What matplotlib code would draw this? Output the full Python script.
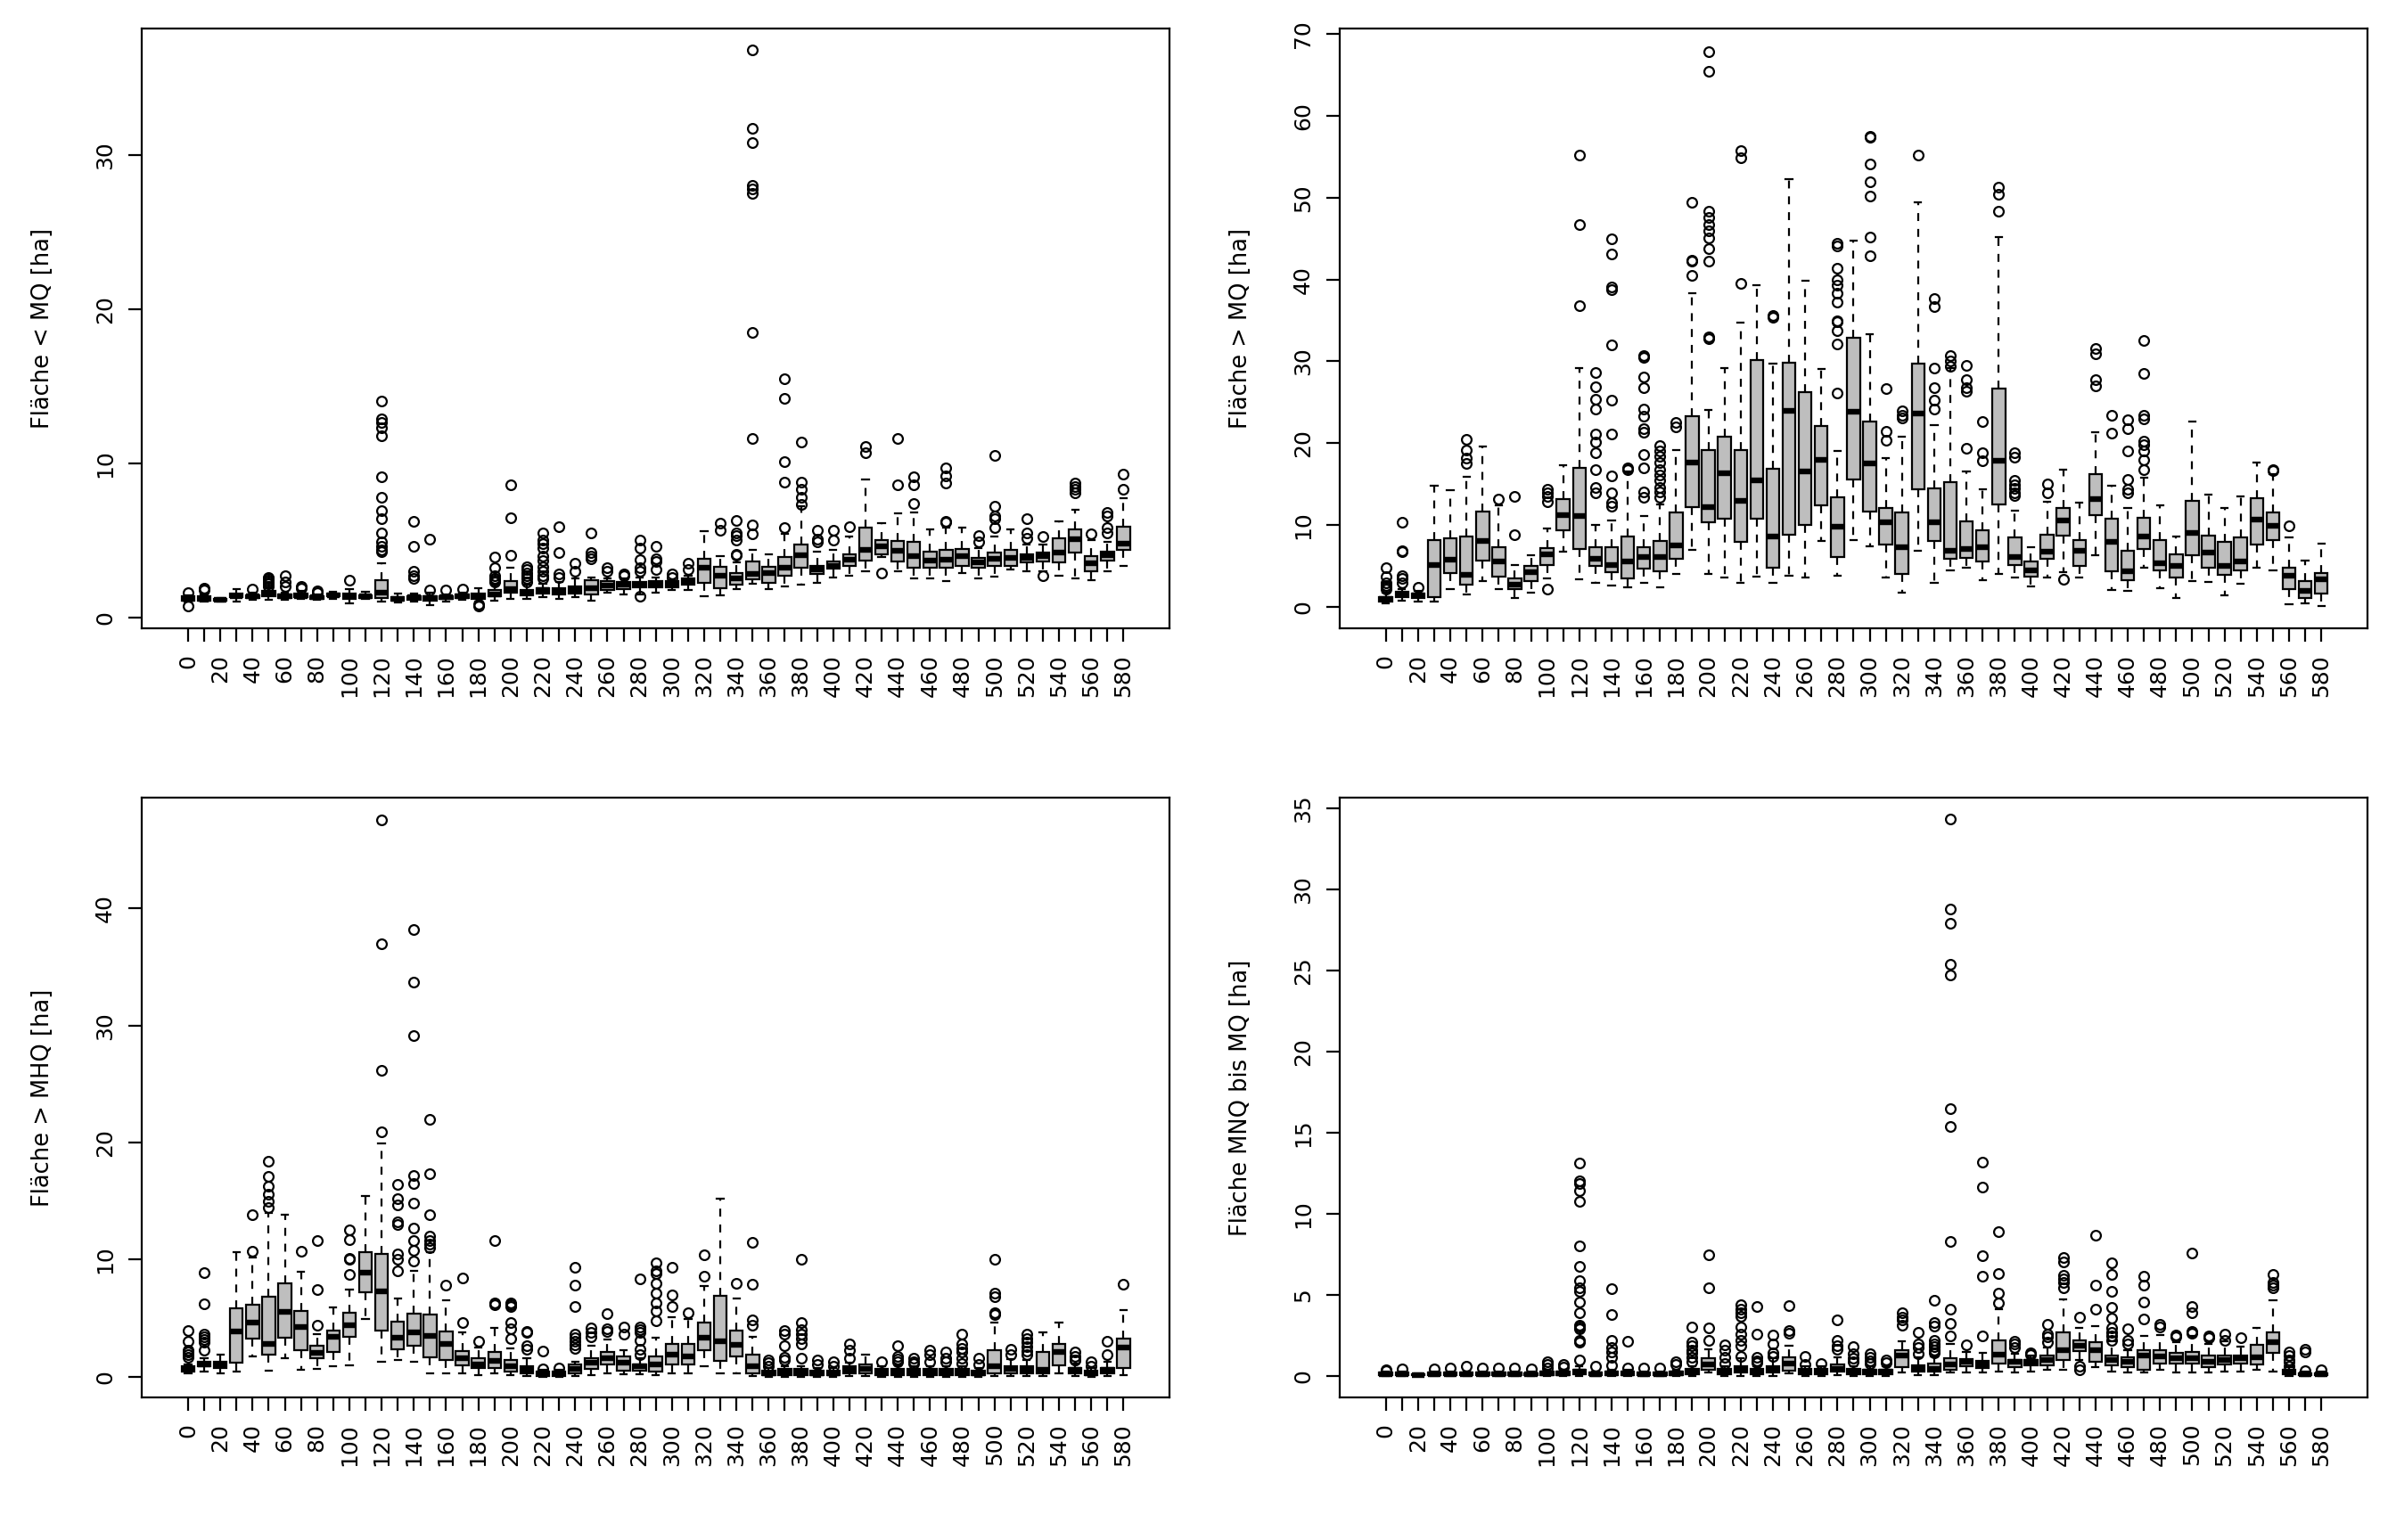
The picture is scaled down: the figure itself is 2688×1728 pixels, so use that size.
import matplotlib
matplotlib.use("Agg")
import matplotlib.pyplot as plt

plt.rcParams['font.family'] = ['DejaVu Sans']

# station labels (0 .. 580 in steps of 10)
stations = list(range(0, 590, 10))

# ---------------------------------------------------------------- Fläche < MQ
lt_med = [1.2, 1.2, 1.15, 1.4, 1.35, 1.55, 1.35, 1.4, 1.3, 1.45, 1.35, 1.35, 1.6, 1.2, 1.3,
          1.25, 1.3, 1.35, 1.35, 1.5, 1.85, 1.6, 1.75, 1.7, 1.8, 1.9, 2.05, 2.1, 2.15, 2.15,
          2.1, 2.3, 3.2, 2.7, 2.5, 2.8, 2.85, 3.2, 4.05, 3.1, 3.35, 3.75, 4.4, 4.6, 4.3,
          4.0, 3.7, 3.75, 3.95, 3.55, 3.8, 3.85, 3.85, 3.95, 4.2, 5.05, 3.5, 4.05, 4.8]
lt_q1 = [1.1, 1.1, 1.1, 1.3, 1.25, 1.4, 1.25, 1.3, 1.2, 1.35, 1.2, 1.25, 1.25, 1.1, 1.15,
         1.1, 1.2, 1.25, 1.2, 1.35, 1.6, 1.45, 1.55, 1.5, 1.55, 1.5, 1.75, 1.85, 1.95, 1.95,
         1.95, 2.1, 2.25, 1.9, 2.1, 2.45, 2.25, 2.7, 3.25, 2.8, 3.15, 3.35, 3.7, 4.1, 3.6,
         3.2, 3.25, 3.25, 3.35, 3.25, 3.35, 3.35, 3.55, 3.6, 3.55, 4.2, 3.0, 3.7, 4.4]
lt_q3 = [1.35, 1.4, 1.2, 1.55, 1.45, 1.7, 1.5, 1.55, 1.4, 1.55, 1.55, 1.45, 2.4, 1.3, 1.4,
         1.4, 1.4, 1.5, 1.55, 1.75, 2.35, 1.8, 1.9, 1.9, 2.0, 2.4, 2.35, 2.3, 2.3, 2.35,
         2.35, 2.5, 3.8, 3.3, 2.85, 3.6, 3.3, 3.9, 4.75, 3.35, 3.6, 4.1, 5.8, 5.0, 4.95,
         4.9, 4.25, 4.4, 4.45, 3.85, 4.2, 4.4, 4.1, 4.2, 5.15, 5.7, 3.95, 4.25, 5.9]
lt_lo = [1.0, 1.0, 1.05, 1.05, 1.15, 1.15, 1.15, 1.2, 1.15, 1.2, 0.9, 1.2, 1.05, 0.95, 1.0,
         0.8, 1.05, 1.15, 1.0, 1.1, 1.2, 1.2, 1.3, 1.2, 1.3, 1.1, 1.6, 1.5, 1.5, 1.6,
         1.8, 1.8, 1.4, 1.45, 1.85, 2.2, 1.85, 2.0, 2.15, 2.25, 2.6, 2.7, 3.0, 3.9, 3.0,
         2.5, 2.5, 2.35, 2.85, 2.5, 2.65, 3.1, 3.0, 3.0, 2.7, 2.5, 2.4, 3.0, 3.35]
lt_hi = [1.45, 1.5, 1.25, 1.85, 1.6, 1.9, 1.6, 1.7, 1.5, 1.65, 1.85, 1.65, 3.5, 1.55, 1.55,
         1.6, 1.5, 1.6, 1.9, 2.1, 3.2, 2.1, 2.2, 2.3, 2.5, 2.6, 2.5, 2.5, 2.6, 2.6,
         2.4, 2.7, 5.6, 4.0, 3.55, 4.4, 4.1, 5.4, 7.2, 4.25, 4.4, 5.25, 8.95, 6.1, 6.75,
         6.8, 5.7, 5.8, 5.8, 4.5, 5.25, 5.7, 4.75, 4.75, 6.2, 7.0, 5.0, 4.9, 7.75]
lt_out = [[1.6, 0.75], [1.8, 1.9], [], [], [1.85], [2.0, 2.2, 2.3, 2.4, 2.5, 2.6],
          [2.0, 2.3, 2.7], [1.9, 2.0], [1.6, 1.7], [], [2.4], [],
          [14.05, 12.9, 12.65, 12.3, 11.8, 9.1, 7.8, 6.9, 6.4, 5.5, 4.9, 4.6, 4.4, 4.25],
          [], [6.2, 4.6, 3.0, 2.7, 2.5], [5.1, 1.8], [1.75], [1.85], [0.85, 0.75],
          [3.9, 3.2, 2.7, 2.5, 2.4, 2.3], [8.6, 6.45, 4.05], [3.3, 3.1, 2.9, 2.7, 2.5, 2.3],
          [5.5, 5.0, 4.8, 4.5, 4.0, 3.7, 3.3, 3.0, 2.7, 2.5], [5.9, 4.2, 2.8, 2.6],
          [3.5, 3.0], [5.5, 4.2, 4.0, 3.8], [3.2, 3.0], [2.8, 2.7],
          [5.0, 4.5, 3.75, 3.2, 3.0, 1.4], [4.6, 3.8, 3.6, 3.1], [2.8, 2.6], [3.5, 3.1],
          [], [6.1, 5.65], [6.3, 5.5, 5.3, 5.0, 4.1, 4.05],
          [36.8, 31.7, 30.8, 28.0, 27.8, 27.5, 18.5, 11.6, 6.0, 5.4], [],
          [15.5, 14.2, 10.1, 8.8, 5.8], [11.4, 8.8, 8.3, 7.8, 7.3], [5.65, 5.05, 4.9],
          [5.65, 5.0], [5.9], [11.1, 10.7], [2.85], [11.6, 8.6], [9.1, 8.6, 7.4], [],
          [9.7, 9.2, 8.7, 6.2, 6.15], [], [5.3, 4.9], [10.5, 7.2, 6.6, 6.4, 5.8], [],
          [6.4, 5.5, 5.15], [5.25, 2.7], [], [8.7, 8.5, 8.3, 8.05], [5.4],
          [6.8, 6.6, 5.8, 5.5], [9.3, 8.3]]

# ---------------------------------------------------------------- Fläche > MQ
gt_med = [0.95, 1.5, 1.35, 5.15, 5.75, 3.9, 8.05, 5.5, 2.7, 4.2, 6.45, 11.2, 11.1, 5.85, 5.15,
          5.5, 6.1, 6.1, 7.5, 17.6, 12.2, 16.3, 12.9, 15.5, 8.6, 23.9, 16.5, 17.9, 9.8, 23.8,
          17.5, 10.3, 7.3, 23.6, 10.3, 6.8, 7.1, 7.3, 17.8, 6.1, 4.4, 6.7, 10.5, 6.8, 13.2,
          7.9, 4.3, 8.6, 5.35, 5.0, 9.0, 6.6, 5.0, 5.5, 10.7, 9.85, 3.8, 1.9, 3.35]
gt_q1 = [0.67, 1.2, 1.05, 1.2, 4.15, 2.7, 5.65, 3.7, 2.15, 3.1, 5.15, 9.3, 7.1, 5.0, 4.2,
         3.45, 4.7, 4.3, 5.85, 12.2, 10.3, 10.8, 7.9, 10.8, 4.8, 8.85, 10.05, 12.35, 6.1, 15.6,
         11.6, 7.65, 4.05, 14.35, 8.0, 5.85, 6.0, 5.5, 12.5, 5.1, 3.7, 5.85, 8.7, 5.0, 11.15,
         4.3, 3.25, 7.1, 4.4, 3.6, 6.3, 4.8, 3.9, 4.4, 7.65, 8.15, 2.15, 1.05, 1.65]
gt_q3 = [1.2, 1.8, 1.6, 8.2, 8.4, 8.6, 11.6, 7.3, 3.45, 5.0, 7.2, 13.15, 17.0, 7.3, 7.3,
         8.6, 7.3, 8.0, 11.5, 23.3, 19.2, 20.8, 19.1, 30.1, 16.9, 29.8, 26.2, 22.1, 13.4, 32.9,
         22.6, 12.1, 11.5, 29.7, 14.45, 15.2, 10.4, 9.4, 26.7, 8.5, 5.5, 8.85, 12.1, 8.2, 16.2,
         10.8, 6.85, 10.9, 8.15, 6.45, 12.9, 8.7, 7.9, 8.5, 13.3, 11.5, 4.8, 3.1, 4.15]
gt_lo = [0.4, 0.7, 0.6, 0.6, 2.15, 1.45, 3.1, 2.15, 1.05, 1.7, 3.45, 6.7, 3.35, 2.9, 2.55,
         2.4, 2.9, 2.4, 4.05, 6.95, 4.05, 3.6, 2.9, 3.7, 2.9, 3.8, 3.6, 8.0, 3.8, 8.2,
         7.4, 3.6, 1.75, 6.85, 2.9, 4.4, 4.8, 3.2, 4.05, 3.6, 2.5, 3.6, 4.2, 3.6, 6.3,
         2.0, 1.9, 4.8, 2.3, 1.05, 3.1, 3.0, 1.35, 2.8, 4.8, 4.4, 0.25, 0.4, 0.1]
gt_hi = [1.7, 2.15, 1.9, 14.8, 14.2, 15.9, 19.6, 12.4, 5.1, 6.35, 9.6, 17.3, 29.2, 9.95, 10.5,
         16.5, 11.1, 12.5, 19.1, 38.3, 24.0, 29.2, 34.7, 39.3, 29.7, 52.3, 39.8, 29.1, 19.0, 44.7,
         33.3, 18.2, 20.8, 49.4, 22.2, 29.2, 16.5, 14.35, 45.2, 11.7, 7.3, 12.8, 16.8, 12.7, 21.3,
         14.8, 12.05, 15.8, 12.4, 8.6, 22.6, 13.7, 12.1, 13.5, 17.6, 16.2, 8.5, 5.65, 7.75]
gt_out = [[4.8, 3.7, 2.9, 2.6, 2.4, 2.15], [10.3, 6.8, 6.7, 3.8, 3.45, 2.9], [2.4], [], [],
          [20.5, 19.1, 18.2, 17.5], [], [13.2], [13.5, 8.8], [], [14.35, 13.9, 13.5, 12.8, 2.2],
          [], [55.2, 46.7, 36.8],
          [28.6, 26.9, 25.4, 24.2, 21.1, 20.1, 18.8, 16.8, 14.6, 13.9],
          [45.0, 43.1, 39.1, 38.8, 32.0, 25.3, 21.1, 16.0, 13.9, 12.7, 12.3], [17.0, 16.8],
          [30.7, 30.5, 28.1, 26.8, 24.2, 23.3, 21.8, 21.3, 18.6, 17.0, 14.0, 13.4],
          [19.7, 19.0, 18.4, 17.6, 16.8, 16.1, 15.4, 14.6, 14.0, 13.4], [22.5, 22.0],
          [49.4, 42.4, 42.3, 40.5],
          [67.8, 65.5, 48.3, 47.6, 46.7, 45.9, 45.1, 43.8, 42.2, 33.0, 32.8], [],
          [55.7, 54.9, 39.5], [], [35.6, 35.4], [], [], [],
          [44.4, 44.1, 41.4, 40.0, 39.3, 38.3, 37.2, 35.0, 34.8, 33.7, 32.1, 26.1], [],
          [57.5, 57.4, 54.1, 51.9, 50.2, 45.2, 42.9], [26.7, 21.4, 20.3], [23.9, 23.4, 23.1],
          [55.2], [37.7, 36.7, 29.2, 26.8, 25.2, 24.2], [30.7, 30.0, 29.4],
          [29.5, 27.8, 26.8, 26.3, 19.4], [22.6, 18.8, 17.8], [51.3, 50.4, 48.3],
          [18.8, 18.3, 15.4, 14.9, 14.45, 13.9, 13.6], [], [15.0, 13.9], [3.4], [],
          [31.6, 30.9, 27.8, 27.0], [23.4, 21.2], [22.9, 21.8, 19.0, 15.55, 14.35, 13.9],
          [32.5, 28.5, 23.4, 23.0, 20.2, 19.8, 19.0, 17.9, 16.8], [], [], [], [], [], [], [],
          [16.7, 16.6], [9.85], [], []]

# ---------------------------------------------------------------- Fläche > MHQ
mhq_med = [0.65, 1.05, 1.0, 3.85, 4.6, 2.75, 5.55, 4.2, 2.0, 3.4, 4.35, 8.9, 7.3, 3.3, 3.8,
           3.5, 2.75, 1.6, 1.05, 1.35, 0.9, 0.55, 0.25, 0.25, 0.65, 1.2, 1.6, 1.2, 0.85, 1.05,
           1.85, 1.75, 3.3, 3.0, 2.7, 0.85, 0.3, 0.4, 0.4, 0.3, 0.3, 0.55, 0.65, 0.4, 0.4,
           0.4, 0.4, 0.4, 0.4, 0.3, 0.85, 0.65, 0.55, 0.55, 2.1, 0.55, 0.3, 0.55, 2.5]
mhq_q1 = [0.4, 0.85, 0.75, 1.15, 3.25, 1.85, 3.3, 2.25, 1.6, 2.1, 3.4, 7.2, 3.9, 2.35, 2.6,
          1.65, 1.4, 0.95, 0.75, 0.75, 0.4, 0.25, 0.05, 0.05, 0.25, 0.65, 1.05, 0.5, 0.5, 0.4,
          1.05, 1.05, 2.25, 1.35, 1.7, 0.3, 0.1, 0.15, 0.15, 0.1, 0.1, 0.3, 0.25, 0.15, 0.15,
          0.15, 0.15, 0.15, 0.15, 0.1, 0.3, 0.3, 0.3, 0.25, 0.95, 0.25, 0.1, 0.25, 0.75]
mhq_q3 = [0.9, 1.3, 1.25, 5.85, 6.1, 6.85, 7.95, 5.6, 2.65, 3.9, 5.45, 10.6, 10.5, 4.7, 5.35,
          5.3, 3.85, 2.2, 1.6, 2.1, 1.4, 0.9, 0.4, 0.4, 1.05, 1.6, 2.1, 1.7, 1.05, 1.75,
          2.75, 2.75, 4.6, 6.9, 3.95, 1.85, 0.5, 0.65, 0.65, 0.5, 0.5, 0.85, 1.0, 0.65, 0.65,
          0.65, 0.65, 0.65, 0.65, 0.5, 2.25, 0.9, 0.85, 2.1, 2.75, 0.75, 0.5, 0.75, 3.25]
mhq_lo = [0.3, 0.45, 0.3, 0.4, 1.7, 0.5, 1.6, 0.55, 0.65, 0.9, 0.95, 4.9, 1.3, 1.4, 1.25,
          0.3, 0.3, 0.3, 0.15, 0.3, 0.15, 0.05, 0.0, 0.0, 0.05, 0.15, 0.3, 0.2, 0.2, 0.1,
          0.3, 0.3, 0.85, 0.3, 0.3, 0.05, 0.0, 0.0, 0.0, 0.0, 0.0, 0.05, 0.05, 0.0, 0.0,
          0.0, 0.0, 0.0, 0.0, 0.0, 0.05, 0.05, 0.05, 0.05, 0.3, 0.05, 0.0, 0.05, 0.15]
mhq_hi = [1.0, 1.55, 1.9, 10.6, 10.2, 14.0, 13.8, 8.95, 3.6, 5.9, 7.45, 15.4, 19.9, 6.7, 9.0,
          10.6, 6.5, 3.75, 2.5, 4.15, 2.4, 1.6, 0.55, 0.55, 1.3, 2.6, 3.15, 2.25, 1.6, 3.3,
          5.1, 4.95, 7.7, 15.2, 6.7, 3.4, 0.75, 0.9, 0.9, 0.7, 0.7, 1.2, 1.85, 0.9, 0.95,
          0.9, 0.9, 0.9, 0.9, 0.7, 4.6, 1.5, 1.4, 3.75, 4.65, 1.1, 0.7, 1.25, 5.65]
mhq_out = [[3.9, 3.0, 2.25, 2.1, 1.85, 1.65], [8.9, 6.2, 3.65, 3.4, 3.2, 2.9, 2.25], [], [],
           [10.7, 13.8], [18.4, 17.1, 16.3, 15.6, 15.0, 14.4], [], [10.7], [11.6, 7.4, 4.4],
           [], [12.5, 11.7, 10.1, 10.0, 8.7], [], [47.6, 37.0, 26.2, 20.9],
           [16.4, 15.2, 14.7, 13.2, 13.0, 10.5, 10.0, 9.0],
           [38.2, 33.7, 29.1, 17.2, 16.5, 14.8, 12.7, 11.6, 10.8, 9.9],
           [22.0, 17.35, 13.8, 12.0, 11.6, 11.3, 11.0], [7.8], [8.45, 4.6], [3.0],
           [11.6, 6.3, 6.1], [6.3, 6.1, 5.95, 4.6, 4.1, 3.25], [3.85, 3.75, 2.6, 2.3],
           [2.15, 0.65], [0.75], [9.35, 7.85, 6.0, 3.6, 3.3, 3.0, 2.7, 2.4],
           [4.15, 3.75, 3.4], [5.35, 4.1, 3.85], [4.2, 3.65],
           [8.35, 4.25, 4.0, 3.8, 3.1, 2.3, 1.9], [9.7, 9.0, 8.8, 7.95, 7.1, 6.3, 5.6, 4.75],
           [9.3, 7.0, 5.95], [5.45], [10.4, 8.55], [], [7.95], [11.5, 7.9, 4.85, 4.35],
           [1.4, 1.2, 0.9], [3.9, 3.6, 2.65, 1.65, 1.4], [10.0, 4.6, 4.0, 3.65, 3.25, 2.75, 1.6],
           [1.4, 1.05], [1.3, 0.9], [2.75, 2.25, 1.6], [], [1.25], [2.65, 1.75, 1.5, 1.25],
           [1.6, 1.3, 1.1], [2.25, 1.9, 1.25], [2.1, 1.6, 1.25], [3.6, 2.75, 2.4, 2.1, 1.6, 1.1],
           [1.6, 1.05], [10.0, 7.1, 6.8, 5.45, 5.3], [2.3, 1.9], [3.65, 3.25, 2.9, 2.55, 2.2, 1.85],
           [], [], [2.1, 1.75, 1.45, 1.4], [1.25, 0.9], [3.0, 1.9], [7.9]]

# ---------------------------------------------------------------- Fläche MNQ bis MQ
mnq_med = [0.1, 0.12, 0.08, 0.1, 0.12, 0.12, 0.12, 0.12, 0.12, 0.1, 0.15, 0.15, 0.25, 0.12, 0.15,
           0.15, 0.12, 0.12, 0.15, 0.25, 0.7, 0.25, 0.45, 0.25, 0.4, 0.75, 0.25, 0.25, 0.45, 0.25,
           0.25, 0.25, 1.25, 0.45, 0.45, 0.7, 0.85, 0.7, 1.3, 0.85, 0.85, 1.0, 1.6, 1.85, 1.6,
           1.0, 0.9, 1.25, 1.2, 1.1, 1.1, 0.9, 1.0, 1.1, 1.15, 2.1, 0.25, 0.1, 0.1]
mnq_q1 = [0.05, 0.05, 0.05, 0.05, 0.05, 0.05, 0.05, 0.05, 0.05, 0.05, 0.05, 0.05, 0.1, 0.05, 0.05,
          0.05, 0.05, 0.05, 0.05, 0.1, 0.4, 0.1, 0.2, 0.1, 0.2, 0.35, 0.1, 0.1, 0.3, 0.1,
          0.1, 0.1, 0.55, 0.3, 0.3, 0.4, 0.6, 0.5, 0.75, 0.55, 0.65, 0.65, 1.0, 1.55, 0.85,
          0.65, 0.55, 0.4, 0.75, 0.75, 0.75, 0.55, 0.7, 0.75, 0.7, 1.4, 0.1, 0.05, 0.05]
mnq_q3 = [0.2, 0.2, 0.12, 0.2, 0.2, 0.2, 0.2, 0.2, 0.2, 0.18, 0.25, 0.25, 0.4, 0.2, 0.25,
          0.25, 0.2, 0.2, 0.25, 0.45, 1.1, 0.45, 0.6, 0.45, 0.6, 1.15, 0.45, 0.45, 0.7, 0.45,
          0.4, 0.4, 1.6, 0.65, 0.75, 1.1, 1.05, 0.95, 2.2, 1.0, 1.0, 1.25, 2.7, 2.2, 2.1,
          1.25, 1.15, 1.6, 1.6, 1.4, 1.5, 1.25, 1.25, 1.25, 1.9, 2.7, 0.4, 0.15, 0.15]
mnq_lo = [0.0, 0.0, 0.02, 0.0, 0.0, 0.0, 0.0, 0.0, 0.0, 0.0, 0.0, 0.0, 0.0, 0.0, 0.0,
          0.0, 0.0, 0.0, 0.0, 0.0, 0.2, 0.0, 0.0, 0.0, 0.0, 0.15, 0.0, 0.0, 0.05, 0.0,
          0.0, 0.0, 0.2, 0.05, 0.05, 0.2, 0.2, 0.2, 0.3, 0.2, 0.3, 0.4, 0.4, 1.0, 0.55,
          0.3, 0.2, 0.2, 0.4, 0.2, 0.2, 0.2, 0.3, 0.3, 0.4, 0.3, 0.0, 0.0, 0.0]
mnq_hi = [0.3, 0.3, 0.15, 0.3, 0.3, 0.3, 0.3, 0.3, 0.3, 0.28, 0.4, 0.4, 0.6, 0.3, 0.4,
          0.4, 0.3, 0.3, 0.4, 0.6, 1.65, 0.6, 1.1, 0.6, 1.1, 1.85, 0.6, 0.6, 1.15, 0.6,
          0.6, 0.6, 2.15, 1.15, 1.2, 2.0, 1.5, 1.4, 4.1, 1.35, 1.25, 1.75, 4.7, 2.95, 3.05,
          2.15, 1.6, 2.45, 2.55, 2.1, 2.45, 2.0, 2.15, 1.8, 2.95, 4.65, 0.55, 0.25, 0.25]
mnq_out = [[0.4, 0.35], [0.45], [], [0.45], [0.5], [0.6], [0.5], [0.5], [0.5], [0.45],
           [0.85, 0.7, 0.5], [0.7, 0.55],
           [13.1, 12.0, 11.85, 11.4, 10.75, 8.0, 6.75, 5.9, 5.45, 5.2, 4.55, 3.9, 3.15, 3.0,
            2.9, 2.2, 2.1, 1.0],
           [0.6], [5.4, 3.8, 2.2, 1.75, 1.5, 1.15, 0.65], [2.15, 0.5], [0.5], [0.5], [0.85, 0.7],
           [3.0, 2.1, 1.85, 1.6, 1.4, 1.15, 0.9], [7.45, 5.45, 2.95, 2.2], [1.9, 1.6, 1.15, 0.75],
           [4.4, 4.1, 3.9, 3.7, 3.0, 2.6, 2.2, 1.85, 1.2], [4.3, 2.6, 1.15, 0.95, 0.8],
           [2.5, 2.0, 1.4, 1.2], [4.35, 2.8, 2.65], [1.2, 0.7], [0.75], [3.45, 2.2, 1.85, 1.65],
           [1.8, 1.35, 1.1, 0.9], [1.35, 1.15, 0.95, 0.75], [1.0, 0.8], [3.9, 3.65, 3.45, 3.15],
           [2.7, 2.0, 1.75, 1.35], [4.65, 3.3, 3.05, 2.2, 2.0, 1.8, 1.6, 1.4],
           [34.3, 28.8, 27.9, 25.4, 24.7, 16.5, 15.4, 8.3, 4.1, 3.25, 2.45], [1.9],
           [13.2, 11.65, 7.4, 6.15, 2.45], [8.9, 6.3, 5.1, 4.5], [2.15, 2.0, 1.75], [1.45, 1.3],
           [3.2, 2.6, 2.4, 2.1], [7.3, 7.05, 6.2, 6.0, 5.75, 5.45], [3.6, 0.6, 0.4],
           [8.65, 5.6, 4.1], [7.0, 6.25, 5.2, 4.25, 3.55, 2.95, 2.7, 2.45, 2.2], [2.9, 2.2, 2.0],
           [6.15, 5.6, 4.55, 3.5], [3.2, 3.0], [2.5, 2.4], [7.6, 4.3, 3.9, 2.75, 2.65],
           [2.45, 2.35], [2.6, 2.2], [2.35], [], [6.25, 5.75, 5.6, 5.45],
           [1.5, 1.25, 1.0, 0.85, 0.6], [1.65, 1.5, 0.35], [0.4]]


def draw_panel(rect, med, q1, q3, lo, hi, out, ylabel, ylim, yticks):
    ax = fig.add_axes(rect)
    stats = []
    for i in range(len(stations)):
        stats.append({"med": med[i], "q1": q1[i], "q3": q3[i],
                      "whislo": lo[i], "whishi": hi[i], "fliers": out[i]})
    pos = list(range(1, len(stations) + 1))
    ax.bxp(stats, positions=pos, widths=0.8, capwidths=0.4, patch_artist=True,
           manage_ticks=False,
           boxprops=dict(facecolor="#BEBEBE", edgecolor="black", linewidth=1.6),
           medianprops=dict(color="black", linewidth=4.6, solid_capstyle="butt"),
           whiskerprops=dict(color="black", linewidth=1.6, linestyle=(0, (4, 4))),
           capprops=dict(color="black", linewidth=1.6),
           flierprops=dict(marker="o", markerfacecolor="none", markeredgecolor="black",
                           markersize=7.8, markeredgewidth=1.6))
    ax.set_xlim(-1.85, 61.85)
    ax.set_ylim(*ylim)
    ax.set_xticks(pos)
    ax.set_xticklabels([str(s) if k % 2 == 0 else "" for k, s in enumerate(stations)],
                       rotation=90, fontsize=18)
    ax.set_yticks(yticks)
    ax.set_yticklabels([str(t) for t in yticks], rotation=90, fontsize=18, va="center")
    ax.tick_params(direction="out", length=11, width=1.6, pad=10)
    for sp in ax.spines.values():
        sp.set_linewidth(1.6)
    fig.text(rect[0] - 111 / 2688, rect[1] + rect[3] / 2, ylabel, rotation=90,
             ha="center", va="center", fontsize=18.5)
    return ax


fig = plt.figure(figsize=(26.88, 17.28), dpi=100)

w, h = 0.4288, 0.3897
draw_panel([0.0593, 0.592, w, h], lt_med, lt_q1, lt_q3, lt_lo, lt_hi, lt_out,
           "Fläche < MQ [ha]", (-0.71, 38.22), [0, 10, 20, 30])
draw_panel([0.5592, 0.592, w, h], gt_med, gt_q1, gt_q3, gt_lo, gt_hi, gt_out,
           "Fläche > MQ [ha]", (-2.64, 70.72), [0, 10, 20, 30, 40, 50, 60, 70])
draw_panel([0.0593, 0.0927, w, 0.3892], mhq_med, mhq_q1, mhq_q3, mhq_lo, mhq_hi, mhq_out,
           "Fläche > MHQ [ha]", (-1.77, 49.45), [0, 10, 20, 30, 40])
draw_panel([0.5592, 0.0927, w, 0.3892], mnq_med, mnq_q1, mnq_q3, mnq_lo, mnq_hi, mnq_out,
           "Fläche MNQ bis MQ [ha]", (-1.31, 35.63), [0, 5, 10, 15, 20, 25, 30, 35])

fig.savefig("out.png", dpi=100)
